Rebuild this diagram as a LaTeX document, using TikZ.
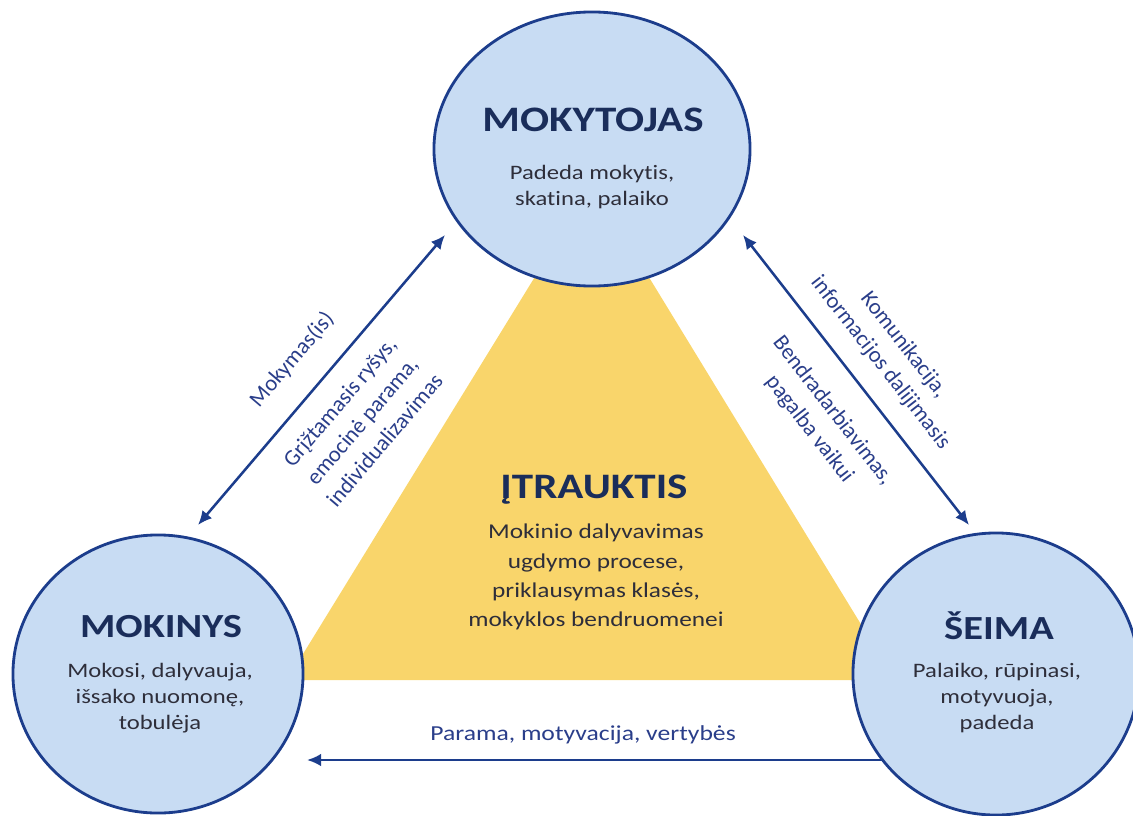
\documentclass[tikz,border=0pt]{standalone}
\usepackage{fontspec}
\setmainfont{Carlito}[FakeStretch=1.2, Ligatures=NoCommon]
\newfontfamily\labelfont{Carlito}[Ligatures=NoCommon]
\usetikzlibrary{shapes.geometric,arrows.meta,backgrounds}

\definecolor{roleFill}{HTML}{C8DCF3}
\definecolor{roleLine}{HTML}{1C3D8C}
\definecolor{titleInk}{HTML}{1A2D5A}
\definecolor{bodyInk}{HTML}{2E2E3A}
\definecolor{linkInk}{HTML}{2A3E8A}
\definecolor{coreFill}{HTML}{F9D56B}

\begin{document}
\begin{tikzpicture}[x=0.025cm, y=-0.025cm,
  role/.style={ellipse, draw=roleLine, line width=2pt, fill=roleFill, inner sep=0pt},
  roletitle/.style={font=\fontsize{24}{28}\selectfont\bfseries, text=titleInk, inner sep=0pt},
  rolebody/.style={font=\fontsize{14.6}{18.6}\selectfont, text=bodyInk, align=center, inner sep=0pt},
  corebody/.style={font=\fontsize{15}{20.8}\selectfont, text=bodyInk, align=center, inner sep=0pt},
  linklabel/.style={font=\labelfont\fontsize{16}{21}\selectfont, text=linkInk, align=center, inner sep=0pt},
  tip/.tip={Latex[length=10pt, width=9pt]},
  oneway/.style={draw=roleLine, line width=1.8pt, -tip},
  twoway/.style={draw=roleLine, line width=1.8pt, tip-tip}
]
\useasboundingbox (0,0) rectangle (1133,816);

% the three roles
\node[role, minimum width=7.9cm, minimum height=6.85cm] (teacher) at (592,149) {};
\node[role, minimum width=7.25cm, minimum height=6.95cm] (pupil) at (158,674) {};
\node[role, minimum width=7.15cm, minimum height=7.05cm] (family) at (996,674) {};

% inclusion triangle and the family-to-pupil link sit behind the roles
\begin{pgfonlayer}{background}
  \fill[coreFill] (592,184) -- (287,680) -- (895,680) -- cycle;
  \coordinate (famEnd) at (307,760);
  \draw[oneway] (family.center |- famEnd) -- (famEnd);
\end{pgfonlayer}

% role texts
\node[roletitle, font=\fontsize{25.5}{30}\selectfont\bfseries] (teacherT) at (593,120) {MOKYTOJAS};
\node[rolebody]  (teacherB) at (592,187) {Padeda mokytis,\\skatina, palaiko};

\node[roletitle] (pupilT) at (161,627) {MOKINYS};
\node[rolebody]  (pupilB) at (160,698) {Mokosi, dalyvauja,\\išsako nuomonę,\\tobulėja};

\node[roletitle] (familyT) at (999,626) {ŠEIMA};
\node[rolebody]  (familyB) at (997,698) {Palaiko, rūpinasi,\\motyvuoja,\\padeda};

% centre of the triangle
\node[roletitle, font=\fontsize{25.5}{30}\selectfont\bfseries] (coreT) at (594,490) {ĮTRAUKTIS};
\node[corebody]  (coreB) at (596,577) {Mokinio dalyvavimas\\ugdymo procese,\\priklausymas klasės,\\mokyklos bendruomenei};

% teacher <-> pupil
\coordinate (tpA) at (198,525);
\coordinate (tpB) at (445,235);
\draw[twoway] (tpA) -- (tpB);
\node[linklabel, rotate=49.6] (tpUp) at (292,360) {Mokymas(is)};
\node[linklabel, rotate=49.6] (tpDown) at (362,421) {Grįžtamasis ryšys,\\emocinė parama,\\individualizavimas};

% teacher <-> family
\coordinate (tfA) at (743,235);
\coordinate (tfB) at (969,525);
\draw[twoway] (tfA) -- (tfB);
\node[linklabel, rotate=-52.1] (tfUp) at (892,354) {Komunikacija,\\informacijos dalijimasis};
\node[linklabel, rotate=-52.1] (tfDown) at (821,420) {Bendradarbiavimas,\\pagalba vaikui};

% family -> pupil label
\node[linklabel, font=\fontsize{15.2}{19}\selectfont] (fpLabel) at (583,735) {Parama, motyvacija, vertybės};
\end{tikzpicture}
\end{document}
